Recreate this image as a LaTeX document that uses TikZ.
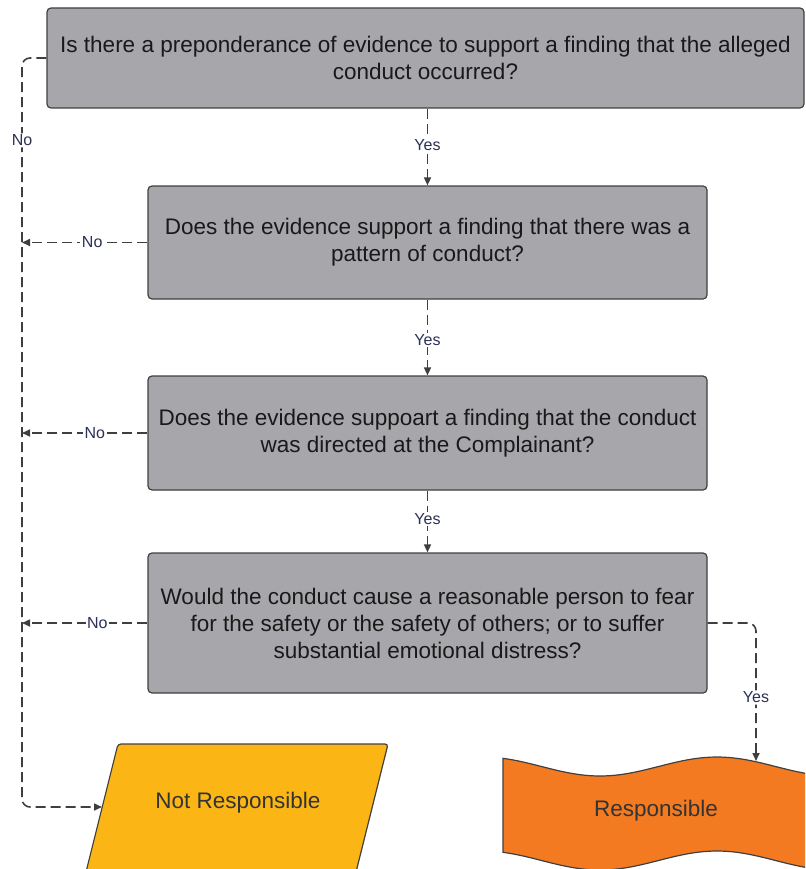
\documentclass[tikz,border=0pt]{standalone}
\usepackage{fontspec}
\setmainfont{Liberation Sans}
\usetikzlibrary{arrows.meta,positioning,shapes.geometric}
\definecolor{qgray}{HTML}{A7A7AB}
\definecolor{edgegray}{HTML}{404040}
\definecolor{linegray}{HTML}{3F3F3F}
\definecolor{labnavy}{HTML}{2B3157}
\definecolor{nrfill}{HTML}{FBB616}
\definecolor{rfill}{HTML}{F37A21}

\begin{document}
\begin{tikzpicture}[x=1pt,y=-1pt,
  question/.style={draw=edgegray, line width=1.2pt, fill=qgray, rounded corners=4pt,
    align=center, font=\fontsize{22.5}{27}\selectfont, text=black!90, inner sep=0pt},
  result/.style={font=\fontsize{22.5}{27}\selectfont, text=black!80},
  conn/.style={draw=linegray, line width=1.6pt, dash pattern=on 10pt off 5pt,
    -{Triangle[length=8pt,width=7pt]}},
  lab/.style={fill=white, text=labnavy, font=\fontsize{16}{19}\selectfont, inner sep=1.5pt}]
  \useasboundingbox (0,0) rectangle (805,869);
  \clip (0,0) rectangle (805,869);

  \node[question, minimum width=757pt, minimum height=100pt] (q1) at (425.5,58)
    {Is there a preponderance of evidence to support a finding that the alleged\\conduct occurred?};
  \node[question, minimum width=559pt, minimum height=113pt] (q2) at (427.5,242.5)
    {Does the evidence support a finding that there was a\\pattern of conduct?};
  \node[question, minimum width=559pt, minimum height=114pt] (q3) at (427.5,433)
    {Does the evidence suppoart a finding that the conduct\\was directed at the Complainant?};
  \node[question, minimum width=559pt, minimum height=140pt] (q4) at (427.5,623)
    {Would the conduct cause a reasonable person to fear\\for the safety or the safety of others; or to suffer\\substantial emotional distress?};

  \filldraw[fill=nrfill, draw=edgegray, line width=1.2pt, rounded corners=3pt]
    (118,744) -- (388,744) -- (355.5,874) -- (85.5,874) -- cycle;
  \node[result] (nresp) at (238,803) {Not Responsible};
  \coordinate (nrleft) at (102,807);

  \filldraw[fill=rfill, draw=edgegray, line width=1.2pt]
    plot[domain=503:815, samples=60] (\x,{766.5-9.5*cos(1.5385*(\x-717))})
    -- plot[domain=815:503, samples=60] (\x,{860.5-9.5*cos(1.5385*(\x-717))}) -- cycle;
  \node[result] (resp) at (656,811) {Responsible};
  \coordinate (resptop) at (756,761);

  \coordinate (rail) at (22,0);
  \draw[conn] (q2.north |- q1.south) -- node[lab, pos=.47] {Yes} (q2.north);
  \draw[conn] (q2) -- node[lab, pos=.53] {Yes} (q3);
  \draw[conn] (q3) -- node[lab, pos=.46] {Yes} (q4);
  \draw[conn] (q2.west) -- node[lab, pos=.44] {No} (q2.west -| rail);
  \draw[conn] (q3.west) -- node[lab, pos=.42] {No} (q3.west -| rail);
  \draw[conn] (q4.west) -- node[lab, pos=.40] {No} (q4.west -| rail);
  \draw[conn, rounded corners=8pt] (q1.west) -- (q1.west -| rail)
    -- node[lab, pos=.11] {No} (nrleft -| rail) -- (nrleft);
  \draw[conn, rounded corners=8pt] (q4.east) -| node[lab, pos=.77] {Yes} (resptop);
\end{tikzpicture}
\end{document}
